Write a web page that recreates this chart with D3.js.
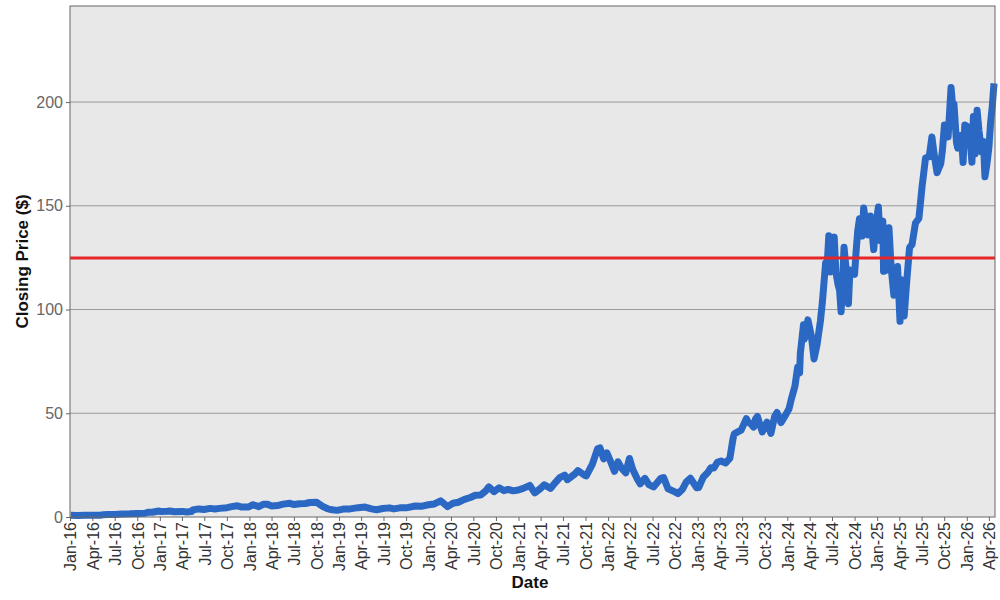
<!DOCTYPE html>
<meta charset="utf-8">
<style>
  body { margin: 0; background: #fff; font-family: Arial, "Liberation Sans", sans-serif; }
  .grid line { stroke: #9a9a9a; stroke-width: 1px; }
  .axis text { fill: #666; font-size: 16px; }
  .axis path, .axis line { stroke: #666; }
  .title { font-weight: bold; font-size: 17px; fill: #111; }
</style>
<body>
<script src="https://d3js.org/d3.v7.min.js"></script>
<script>
// closing prices (date, $)
var dates = ["2016-01-04","2016-02-01","2016-03-01","2016-04-01","2016-05-02","2016-05-16","2016-06-01","2016-07-01","2016-08-01","2016-09-01","2016-10-03","2016-11-01","2016-11-14","2016-12-01","2016-12-28",
  "2017-01-03","2017-02-01","2017-02-10","2017-03-01","2017-04-03","2017-04-20","2017-05-10","2017-05-15","2017-06-08","2017-06-30","2017-07-25","2017-08-14","2017-09-01","2017-10-02","2017-10-20","2017-11-13","2017-12-01","2017-12-29",
  "2018-01-16","2018-02-08","2018-02-26","2018-03-13","2018-04-02","2018-04-25","2018-05-18","2018-06-15","2018-07-02","2018-07-24","2018-08-17","2018-09-04","2018-10-01","2018-10-29","2018-11-16","2018-11-26","2018-12-24",
  "2019-01-18","2019-02-15","2019-03-20","2019-04-17","2019-05-13","2019-06-03","2019-06-28","2019-07-25","2019-08-12","2019-09-06","2019-10-01","2019-11-08","2019-12-06","2019-12-31",
  "2020-01-24","2020-02-19","2020-03-18","2020-04-09","2020-05-01","2020-05-26","2020-06-19","2020-07-09","2020-07-31","2020-08-20","2020-09-02","2020-09-23","2020-10-14","2020-11-02","2020-11-20","2020-12-10","2020-12-31",
  "2021-01-20","2021-02-16","2021-03-08","2021-04-01","2021-04-16","2021-05-12","2021-05-28","2021-06-18","2021-07-08","2021-07-19","2021-08-19","2021-08-31","2021-09-28","2021-10-04","2021-10-29","2021-11-19","2021-11-29","2021-12-14","2021-12-27",
  "2022-01-10","2022-01-27","2022-02-10","2022-02-24","2022-03-14","2022-03-29","2022-04-11","2022-04-29","2022-05-12","2022-05-31","2022-06-16","2022-07-05","2022-08-03","2022-08-15","2022-09-02","2022-09-30","2022-10-13","2022-10-31","2022-11-15","2022-12-02","2022-12-28",
  "2023-01-05","2023-01-24","2023-02-10","2023-02-23","2023-03-08","2023-03-22","2023-04-06","2023-04-25","2023-05-12","2023-05-25","2023-05-30","2023-06-13","2023-06-27","2023-07-18","2023-07-26","2023-08-08","2023-08-17","2023-08-24","2023-09-01","2023-09-21","2023-10-10","2023-10-26","2023-11-10","2023-11-20","2023-12-06","2023-12-27",
  "2024-01-08","2024-01-18","2024-02-01","2024-02-12","2024-02-20","2024-02-23","2024-03-07","2024-03-11","2024-03-25","2024-04-08","2024-04-19","2024-05-01","2024-05-15","2024-05-23","2024-06-05","2024-06-11","2024-06-18","2024-06-24","2024-06-28","2024-07-03","2024-07-10","2024-07-17","2024-07-25","2024-08-01","2024-08-07","2024-08-12","2024-08-19","2024-08-29","2024-09-06","2024-09-12","2024-09-19","2024-10-01","2024-10-07","2024-10-14","2024-10-21","2024-11-01","2024-11-07","2024-11-15","2024-11-25","2024-12-05","2024-12-18","2024-12-26",
  "2025-01-06","2025-01-13","2025-01-24","2025-01-27","2025-02-04","2025-02-18","2025-02-27","2025-03-10","2025-03-18","2025-03-25","2025-04-04","2025-04-09","2025-04-21","2025-05-02","2025-05-13","2025-05-23","2025-06-06","2025-06-20","2025-07-03","2025-07-17","2025-08-01","2025-08-12","2025-08-21","2025-09-02","2025-09-17","2025-09-24","2025-10-02","2025-10-10","2025-10-17","2025-10-29","2025-11-04","2025-11-10","2025-11-20","2025-11-25","2025-12-02","2025-12-10","2025-12-17","2025-12-24",
  "2026-01-05","2026-01-14","2026-01-22","2026-01-28","2026-02-04","2026-02-12","2026-02-20","2026-03-02","2026-03-10","2026-03-16","2026-03-24","2026-04-01","2026-04-08","2026-04-15","2026-04-22"];
var prices = [0.81,0.72,0.80,0.90,0.88,1.10,1.16,1.18,1.42,1.52,1.72,1.78,2.30,2.30,2.90,
  2.60,2.75,2.90,2.50,2.70,2.45,2.60,3.40,3.90,3.60,4.15,3.90,4.15,4.50,5.00,5.40,4.80,4.85,
  5.90,5.00,6.10,6.20,5.30,5.50,6.20,6.60,6.00,6.40,6.50,7.00,7.10,4.90,4.00,3.60,3.20,
  3.80,3.90,4.50,4.80,3.90,3.50,4.10,4.40,3.90,4.40,4.40,5.30,5.20,5.90,
  6.30,7.80,5.00,6.60,7.10,8.50,9.40,10.5,10.6,12.5,14.5,12.2,14.1,12.7,13.3,12.6,13.0,
  13.8,15.2,11.6,13.8,15.5,13.8,16.2,19.0,20.2,18.0,20.8,22.4,20.0,19.8,25.5,32.9,33.3,28.0,30.9,
  27.0,22.0,26.6,23.7,21.3,28.2,23.0,18.5,16.0,18.6,15.6,14.5,18.6,19.0,13.6,12.1,11.3,13.4,16.8,18.7,14.1,
  14.2,19.3,21.3,23.7,23.6,26.4,27.0,26.0,28.3,37.9,40.1,41.0,41.9,47.4,45.7,44.6,43.3,47.1,48.5,41.0,45.7,40.3,48.3,50.4,45.5,49.6,
  52.2,57.1,63.0,72.2,69.4,78.8,92.7,85.8,95.0,87.1,76.2,83.0,94.6,103.8,122.4,120.9,135.6,118.1,123.5,128.3,134.9,117.9,112.3,109.2,98.9,109.0,130.0,117.6,102.8,119.1,117.9,117.0,127.7,138.1,143.7,135.4,148.9,141.9,136.0,145.1,128.9,139.9,
  149.4,133.2,142.6,118.4,118.7,139.4,120.2,106.9,115.4,120.7,94.3,114.3,96.9,114.5,129.9,131.3,141.7,143.9,159.3,173.0,173.7,183.2,174.9,166.0,170.3,176.9,188.9,183.2,183.2,207.0,198.7,199.0,180.6,177.8,181.5,184.0,170.9,189.0,
  188,183,171,193,175,196,186,176,181,164,170,178,190,198,209];
var refLevel = 124.8;   // red horizontal line
var yTicks = [0, 50, 100, 150, 200];

var parse = d3.timeParse("%Y-%m-%d");
var data = dates.map(function(d, i) { return {date: parse(d), close: prices[i]}; });

var margin = {top: 6, right: 5, bottom: 83, left: 70},
    width = 1000 - margin.left - margin.right,
    height = 600 - margin.top - margin.bottom;

var svg = d3.select("body").append("svg")
    .attr("width", 1000)
    .attr("height", 600);
var g = svg.append("g")
    .attr("transform", "translate(" + margin.left + "," + margin.top + ")");

var x = d3.scaleTime()
    .domain([new Date(2016, 0, 1), new Date(2026, 3, 26)])
    .range([0, width]);
var y = d3.scaleLinear().domain([0, 246.3]).range([height, 0]);

// plot background
g.append("rect")
    .attr("width", width).attr("height", height)
    .attr("fill", "#e8e8e8");

// gridlines
g.append("g").attr("class", "grid")
  .selectAll("line").data(yTicks.slice(1)).enter().append("line")
    .attr("x1", 0).attr("x2", width)
    .attr("y1", function(d) { return y(d); })
    .attr("y2", function(d) { return y(d); });

// the price line
var line = d3.line()
    .x(function(d) { return x(d.date); })
    .y(function(d) { return y(d.close); });
g.append("path")
    .datum(data)
    .attr("fill", "none")
    .attr("stroke", "#2a68c3")
    .attr("stroke-width", 7)
    .attr("stroke-linejoin", "round")
    .attr("stroke-linecap", "butt")
    .attr("d", line);

// reference line
g.append("line")
    .attr("x1", 0).attr("x2", width)
    .attr("y1", y(refLevel)).attr("y2", y(refLevel))
    .attr("stroke", "#e8262a")
    .attr("stroke-width", 3);

// frame
g.append("rect")
    .attr("width", width).attr("height", height)
    .attr("fill", "none").attr("stroke", "#666").attr("stroke-width", 1);

// axes
g.append("g").attr("class", "axis")
    .call(d3.axisLeft(y).tickValues(yTicks).tickSize(4).tickPadding(3))
    .call(function(s) { s.select(".domain").remove(); });

var xa = g.append("g").attr("class", "axis")
    .attr("transform", "translate(0," + height + ")")
    .call(d3.axisBottom(x).ticks(d3.timeMonth.every(3))
        .tickFormat(d3.timeFormat("%b-%y")).tickSize(4).tickPadding(2));
xa.select(".domain").remove();
xa.selectAll("text")
    .attr("transform", "rotate(-90)")
    .attr("text-anchor", "end")
    .attr("x", -5)
    .attr("y", 0)
    .attr("dy", "0.36em")
    .style("fill", "#333")
    .style("font-size", "16px");

// titles
svg.append("text").attr("class", "title")
    .attr("x", 530).attr("y", 588)
    .attr("text-anchor", "middle")
    .text("Date");
svg.append("text").attr("class", "title")
    .attr("transform", "translate(28," + (margin.top + height / 2) + ") rotate(-90)")
    .attr("text-anchor", "middle")
    .text("Closing Price ($)");
</script>
</body>
